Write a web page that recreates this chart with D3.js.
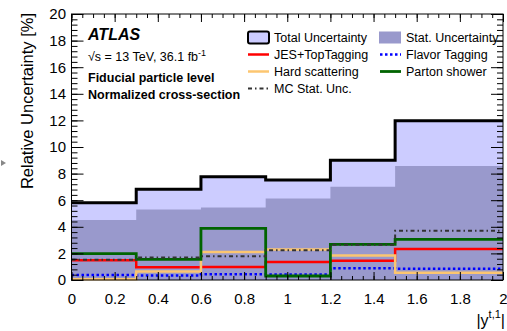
<!DOCTYPE html>
<html>
<head>
<meta charset="utf-8">
<script src="https://cdn.jsdelivr.net/npm/d3@7"></script>
<style>
  html, body { margin: 0; padding: 0; background: #fff; }
  svg { display: block; font-family: "Liberation Sans", Arial, Helvetica, sans-serif; }
</style>
</head>
<body>
<div id="chart"></div>
<script>
// bin edges in |y^{t,1}|
const binEdges = [0, 0.3, 0.6, 0.9, 1.2, 1.5, 2.0];

// relative uncertainties [%] per bin
const totalUnc    = [5.8, 6.82, 7.77, 7.52, 9.0, 11.98];
const statUnc     = [4.51, 5.31, 5.46, 6.12, 7.02, 8.57];
const jesTopTag   = [1.48, 0.95, 0.98, 1.35, 1.45, 2.33];
const flavorTag   = [0.38, 0.33, 0.43, 0.42, 0.88, 0.85];
const hardScatter = [0.05, 0.63, 2.1, 2.3, 1.85, 0.55];
const partonShower = [1.98, 1.55, 3.88, 0.3, 2.68, 3.06];
const mcStat      = [1.52, 1.7, 1.78, 2.23, 2.65, 3.7];

const xTickValues = [0, 0.2, 0.4, 0.6, 0.8, 1, 1.2, 1.4, 1.6, 1.8, 2];
const yTickValues = [0, 2, 4, 6, 8, 10, 12, 14, 16, 18, 20];

const width = 507, height = 331;
const margin = { top: 14, right: 4, bottom: 51, left: 71.5 };

const svg = d3.select('#chart').append('svg')
  .attr('width', width)
  .attr('height', height);

const x = d3.scaleLinear().domain([0, 2]).range([margin.left, width - margin.right]);
const y = d3.scaleLinear().domain([0, 20]).range([height - margin.bottom, margin.top]);

// histogram points: one per bin low edge, plus the last upper edge
const histPoints = vals => vals.map((v, i) => [binEdges[i], v]).concat([[binEdges[vals.length], vals[vals.length - 1]]]);

const stepLine = d3.line()
  .x(d => x(d[0]))
  .y(d => y(d[1]))
  .curve(d3.curveStepAfter);

const stepArea = d3.area()
  .x(d => x(d[0]))
  .y0(y(0))
  .y1(d => y(d[1]))
  .curve(d3.curveStepAfter);

// filled bands
svg.append('path').datum(histPoints(totalUnc))
  .attr('fill', '#ccccff').attr('d', stepArea);
svg.append('path').datum(histPoints(statUnc))
  .attr('fill', '#9999cc').attr('d', stepArea);

// systematic lines
const lines = [
  { vals: jesTopTag, color: '#ff0000', width: 2.5, dash: null },
  { vals: flavorTag, color: '#0000ff', width: 2.5, dash: '2.5,2.5' },
  { vals: hardScatter, color: '#fcc670', width: 2.5, dash: null },
  { vals: partonShower, color: '#006400', width: 2.8, dash: null },
  { vals: mcStat, color: '#333333', width: 2, dash: '4,3,1.5,3' }
];
lines.forEach(l => {
  svg.append('path').datum(histPoints(l.vals))
    .attr('fill', 'none')
    .attr('stroke', l.color)
    .attr('stroke-width', l.width)
    .attr('stroke-dasharray', l.dash)
    .attr('d', stepLine);
});

// total outline
svg.append('path').datum(histPoints(totalUnc))
  .attr('fill', 'none').attr('stroke', '#000').attr('stroke-width', 3)
  .attr('d', stepLine);

// axes, ROOT style ticks pointing inward
const xMinor = d3.range(0, 2.0001, 0.05);
const yMinor = d3.range(0, 20.0001, 0.4);
const plotW = x(2) - x(0), plotH = y(0) - y(20);

svg.append('g').attr('transform', `translate(0,${y(0)})`)
  .call(d3.axisBottom(x).tickValues(xMinor).tickSize(-4).tickFormat(''));
svg.append('g').attr('class', 'xlab').attr('transform', `translate(0,${y(0)})`)
  .call(d3.axisBottom(x).tickValues(xTickValues).tickSize(-8).tickPadding(13)
    .tickFormat(d => d3.format('')(d)));
svg.append('g').attr('transform', `translate(0,${y(20)})`)
  .call(d3.axisTop(x).tickValues(xMinor).tickSize(-4).tickFormat(''));
svg.append('g').attr('transform', `translate(0,${y(20)})`)
  .call(d3.axisTop(x).tickValues(xTickValues).tickSize(-8).tickFormat(''));

svg.append('g').attr('transform', `translate(${x(0)},0)`)
  .call(d3.axisLeft(y).tickValues(yMinor).tickSize(-6).tickFormat(''));
svg.append('g').attr('class', 'ylab').attr('transform', `translate(${x(0)},0)`)
  .call(d3.axisLeft(y).tickValues(yTickValues).tickSize(-12).tickPadding(5.5));
svg.append('g').attr('transform', `translate(${x(2)},0)`)
  .call(d3.axisRight(y).tickValues(yMinor).tickSize(-6).tickFormat(''));
svg.append('g').attr('transform', `translate(${x(2)},0)`)
  .call(d3.axisRight(y).tickValues(yTickValues).tickSize(-12).tickFormat(''));

svg.selectAll('.domain').remove();
svg.selectAll('.tick line').attr('stroke', '#000');
svg.selectAll('.tick text')
  .attr('font-size', 15)
  .attr('font-family', '"Liberation Sans", Arial, sans-serif')
  .attr('fill', '#000');

svg.append('rect')
  .attr('x', x(0)).attr('y', y(20))
  .attr('width', plotW).attr('height', plotH)
  .attr('fill', 'none').attr('stroke', '#000').attr('stroke-width', 1);

// axis titles
svg.append('text')
  .attr('transform', `translate(33,${y(20) - 1}) rotate(-90)`)
  .attr('text-anchor', 'end')
  .attr('font-size', 16.5)
  .text('Relative Uncertainty [%]');

const xt = svg.append('text')
  .attr('x', 505).attr('y', 326)
  .attr('text-anchor', 'end')
  .attr('font-size', 16);
xt.append('tspan').text('|y');
xt.append('tspan').attr('font-size', 11).attr('dy', -8).text('t,1');
xt.append('tspan').attr('dy', 8).text('|');

// small gray marker on the left edge
svg.append('path')
  .attr('d', 'M1,160 L6,163 L1,166 Z')
  .attr('fill', '#888');

// ATLAS labels
svg.append('text')
  .attr('x', 88).attr('y', 40)
  .attr('font-size', 16).attr('font-weight', 'bold').attr('font-style', 'italic')
  .text('ATLAS');
const rs = svg.append('text')
  .attr('x', 88).attr('y', 61)
  .attr('font-size', 12.5);
rs.append('tspan').text('\u221As = 13 TeV, 36.1 fb');
rs.append('tspan').attr('font-size', 9).attr('dy', -5).text('-1');
svg.append('text')
  .attr('x', 88).attr('y', 82)
  .attr('font-size', 12.5).attr('font-weight', 'bold')
  .text('Fiducial particle level');
svg.append('text')
  .attr('x', 88).attr('y', 99)
  .attr('font-size', 12.5).attr('font-weight', 'bold')
  .text('Normalized cross-section');

// legend
const legendItems = [
  { label: 'Total Uncertainty', type: 'box', fill: '#ccccff', stroke: '#000', col: 0, row: 0 },
  { label: 'Stat. Uncertainty', type: 'box', fill: '#9999cc', stroke: null, col: 1, row: 0 },
  { label: 'JES+TopTagging', type: 'line', color: '#ff0000', width: 2.5, dash: null, col: 0, row: 1 },
  { label: 'Flavor Tagging', type: 'line', color: '#0000ff', width: 2.5, dash: '2.5,2.5', col: 1, row: 1 },
  { label: 'Hard scattering', type: 'line', color: '#fcc670', width: 2.5, dash: null, col: 0, row: 2 },
  { label: 'Parton shower', type: 'line', color: '#006400', width: 2.8, dash: null, col: 1, row: 2 },
  { label: 'MC Stat. Unc.', type: 'line', color: '#333333', width: 2, dash: '4,3,1.5,3', col: 0, row: 3 }
];
const colX = [247, 379];
const rowY = [37.5, 54.5, 71.5, 88.5];
const leg = svg.append('g');
legendItems.forEach(it => {
  const sx = colX[it.col], cy = rowY[it.row];
  if (it.type === 'box') {
    leg.append('rect')
      .attr('x', sx + (it.stroke ? 1 : 0)).attr('y', cy - 6)
      .attr('width', it.stroke ? 21 : 22).attr('height', 12)
      .attr('rx', it.stroke ? 2 : 0)
      .attr('fill', it.fill)
      .attr('stroke', it.stroke)
      .attr('stroke-width', it.stroke ? 2 : 0);
  } else {
    leg.append('line')
      .attr('x1', sx + 1).attr('x2', sx + 22)
      .attr('y1', cy).attr('y2', cy)
      .attr('stroke', it.color).attr('stroke-width', it.width)
      .attr('stroke-dasharray', it.dash);
  }
  leg.append('text')
    .attr('x', sx + 27).attr('y', cy + 4.5)
    .attr('font-size', 12.5)
    .text(it.label);
});
</script>
</body>
</html>
